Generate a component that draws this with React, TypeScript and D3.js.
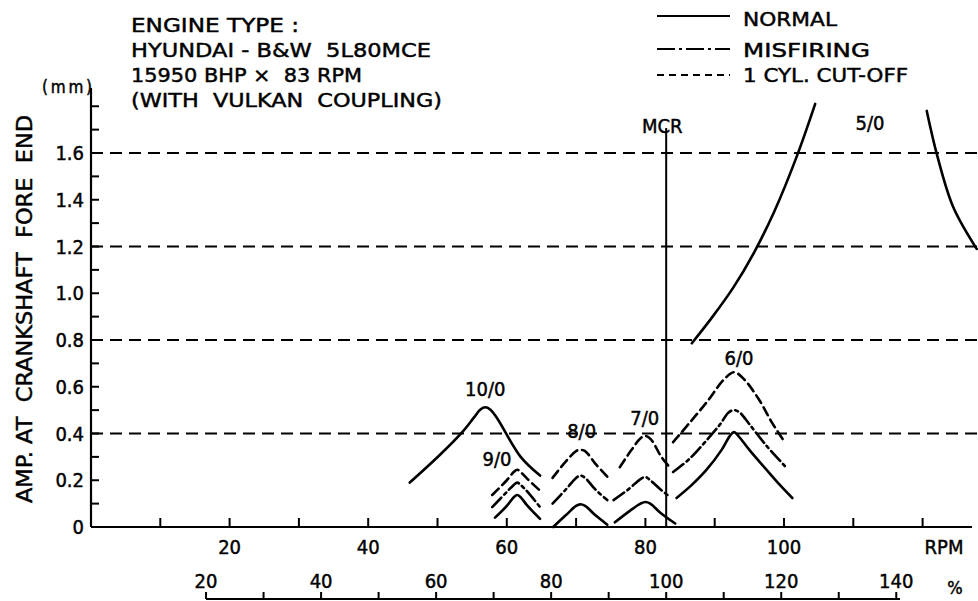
import React from "react";
import * as d3 from "d3";

// ---- chart values ----
const rpmLabels = [20, 40, 60, 80, 100];
const rpmMinorTicks = [10, 20, 30, 40, 50, 60, 70, 80, 90, 100, 110, 120];
const pctLabels = [20, 40, 60, 80, 100, 120, 140];
const pctTicks = [20, 30, 40, 50, 60, 70, 80, 90, 100, 110, 120, 130, 140];
const ampLabels = [0, 0.2, 0.4, 0.6, 0.8, 1.0, 1.2, 1.4, 1.6];
const ampTicks = [0.1, 0.2, 0.3, 0.4, 0.5, 0.6, 0.7, 0.8, 0.9, 1.0, 1.1, 1.2, 1.3, 1.4, 1.5, 1.6, 1.7, 1.8];
const limitLevels = [0.4, 0.8, 1.2, 1.6];
const mcrRpm = 83;
const mcrPct = 100;

const titleLines = [
  "ENGINE TYPE :",
  "HYUNDAI - B&W  5L80MCE",
  "15950 BHP \u00d7  83 RPM",
  "(WITH  VULKAN  COUPLING)",
];
const titleWidths = [168, 300, 231, 311];

const legendItems = ["NORMAL", "MISFIRING", "1 CYL. CUT-OFF"];
const legendWidths = [94, 127, 165];

// [rpm, amplitude mm]
const o10Normal = [[46, 0.19], [50.4, 0.31], [53.7, 0.41], [55.3, 0.47], [56.2, 0.503], [56.9, 0.512], [57.6, 0.503], [58.6, 0.465], [62, 0.3], [64.8, 0.22]];

const o9Normal = [[58.3, 0.04], [60, 0.09], [61, 0.127], [61.5, 0.137], [62, 0.127], [63, 0.09], [64.8, 0.035]];
const o9Misfire = [[57.9, 0.085], [60, 0.15], [61, 0.18], [61.5, 0.19], [62, 0.18], [63, 0.15], [64.8, 0.085]];
const o9Cutoff = [[57.9, 0.137], [60, 0.2], [61, 0.235], [61.5, 0.245], [62, 0.235], [63, 0.205], [65, 0.15]];

const o8Normal = [[66.7, 0.0], [68.5, 0.05], [70, 0.09], [70.6, 0.097], [71.3, 0.09], [72.8, 0.05], [74.5, 0.01]];
const o8Misfire = [[66.6, 0.1], [68.5, 0.16], [70, 0.21], [70.6, 0.22], [71.3, 0.21], [72.8, 0.16], [74.5, 0.115]];
const o8Cutoff = [[66.6, 0.21], [68.5, 0.28], [70, 0.325], [70.6, 0.33], [71.3, 0.325], [72.8, 0.27], [74.5, 0.215]];

const o7Normal = [[75.6, 0.02], [77.8, 0.07], [79.3, 0.1], [80, 0.107], [80.7, 0.1], [82.2, 0.06], [84.3, 0.015]];
const o7Misfire = [[75.4, 0.115], [77.5, 0.16], [79.3, 0.205], [80, 0.214], [80.7, 0.2], [82.2, 0.16], [83.5, 0.13]];
const o7Cutoff = [[76.3, 0.256], [78, 0.33], [79.3, 0.38], [80, 0.39], [80.8, 0.375], [82.3, 0.3], [83.5, 0.256]];

const o6Normal = [[84.5, 0.124], [86.7, 0.18], [88.8, 0.244], [91, 0.33], [92.2, 0.39], [92.8, 0.406], [93.4, 0.39], [95, 0.33], [97.5, 0.244], [99.4, 0.18], [101.2, 0.124]];
const o6Misfire = [[84, 0.235], [86.3, 0.29], [88.5, 0.36], [90.8, 0.44], [92, 0.49], [92.8, 0.5], [93.6, 0.49], [95, 0.44], [97.4, 0.35], [100.4, 0.252]];
const o6Cutoff = [[84, 0.363], [86.5, 0.45], [89, 0.54], [91.3, 0.63], [92.8, 0.662], [94.3, 0.63], [96.5, 0.54], [98.2, 0.45], [99.9, 0.372]];

const o5NormalLow = [[86.7, 0.786], [89.7, 0.9], [92.7, 1.025], [95.6, 1.17], [98.6, 1.35], [101.9, 1.59], [104.5, 1.81]];
const o5NormalHigh = [[120.6, 1.78], [122.1, 1.59], [124.4, 1.37], [127.8, 1.19]];

const curves = [
  { kind: "normal", pts: o10Normal },
  { kind: "normal", pts: o9Normal },
  { kind: "misfire", pts: o9Misfire },
  { kind: "cutoff", pts: o9Cutoff },
  { kind: "normal", pts: o8Normal },
  { kind: "misfire", pts: o8Misfire },
  { kind: "cutoff", pts: o8Cutoff },
  { kind: "normal", pts: o7Normal },
  { kind: "misfire", pts: o7Misfire },
  { kind: "cutoff", pts: o7Cutoff },
  { kind: "normal", pts: o6Normal },
  { kind: "misfire", pts: o6Misfire },
  { kind: "cutoff", pts: o6Cutoff },
  { kind: "normal", pts: o5NormalLow },
  { kind: "normal", pts: o5NormalHigh },
];

// order labels: [label, rpm, amp]
const orderLabels = [
  ["10/0", 56.9, 0.56],
  ["9/0", 58.6, 0.26],
  ["8/0", 70.8, 0.38],
  ["7/0", 79.9, 0.435],
  ["6/0", 93.5, 0.695],
  ["5/0", 112.4, 1.7],
];

const dashes = {
  normal: null,
  misfire: "13,4,3,4",
  cutoff: "9,5",
};

const W = 978;
const H = 601;
const font = "'DejaVu Sans Condensed', 'DejaVu Sans', sans-serif";
const wideFont = "'DejaVu Sans', sans-serif";

export default function App() {
  const x = d3.scaleLinear().domain([0, 100]).range([91, 784]);
  const y = d3.scaleLinear().domain([0, 1.6]).range([527, 153]);
  const xPct = (p: number) => x((p * mcrRpm) / mcrPct);

  const line = d3
    .line<number[]>()
    .x((d) => x(d[0]))
    .y((d) => y(d[1]))
    .curve(d3.curveCatmullRom.alpha(0.5));

  const axisY = 527;
  const pctY = 599;
  const ts = { fill: "#000", stroke: "#000", strokeWidth: 0.45 };

  return (
    <svg
      width={W}
      height={H}
      style={{ position: "absolute", left: 0, top: 0, background: "#fff" }}
      fontFamily={font}
    >
      {/* title block */}
      {titleLines.map((t, i) => (
        <text key={t} x={131} y={32 + i * 25} fontSize={19.5} fontFamily={wideFont} {...ts}
          textLength={titleWidths[i]} lengthAdjust="spacingAndGlyphs" style={{ whiteSpace: "pre" }}>
          {t}
        </text>
      ))}

      {/* legend */}
      {legendItems.map((t, i) => {
        const ly = [16, 49, 75][i];
        const k = ["normal", "misfire", "cutoff"][i];
        return (
          <g key={t}>
            <line x1={657} x2={730} y1={ly} y2={ly} stroke="#000" strokeWidth={2}
              strokeDasharray={k === "misfire" ? "18,4,3,4" : k === "cutoff" ? "7,5" : undefined} />
            <text x={743} y={[26, 57, 82][i]} fontSize={19} fontFamily={wideFont} {...ts}
              textLength={legendWidths[i]} lengthAdjust="spacingAndGlyphs">{t}</text>
          </g>
        );
      })}

      {/* limit lines */}
      {limitLevels.map((v) => (
        <line key={v} x1={x(0)} x2={W} y1={y(v)} y2={y(v)} stroke="#000" strokeWidth={2} strokeDasharray="12,7" />
      ))}

      {/* y axis */}
      <line x1={x(0)} x2={x(0)} y1={axisY} y2={88} stroke="#000" strokeWidth={2.2} />
      {ampTicks.map((v) => (
        <line key={v} x1={x(0)} x2={x(0) + 8} y1={y(v)} y2={y(v)} stroke="#000" strokeWidth={2} />
      ))}
      {ampLabels.map((v) => (
        <text key={v} x={84} y={y(v) + 7} fontSize={20} textAnchor="end" {...ts}>
          {v === 0 ? "0" : v.toFixed(1)}
        </text>
      ))}
      <text x={42} y={93} fontSize={17} {...ts} textLength={50} lengthAdjust="spacing">(mm)</text>
      <text
        transform={`translate(32, ${(115 + 503) / 2}) rotate(-90)`}
        textAnchor="middle"
        fontSize={22}
        fontFamily={wideFont}
        {...ts}
        textLength={388}
        lengthAdjust="spacingAndGlyphs"
        style={{ whiteSpace: "pre" }}
      >
        AMP. AT  CRANKSHAFT  FORE  END
      </text>

      {/* rpm axis */}
      <line x1={x(0)} x2={972} y1={axisY} y2={axisY} stroke="#000" strokeWidth={2.2} />
      {rpmMinorTicks.map((v) => (
        <line key={v} x1={x(v)} x2={x(v)} y1={axisY} y2={axisY - 9} stroke="#000" strokeWidth={2} />
      ))}
      {rpmLabels.map((v) => (
        <text key={v} x={x(v)} y={554} fontSize={20} textAnchor="middle" {...ts}>{v}</text>
      ))}
      <text x={944} y={554} fontSize={20} textAnchor="middle" {...ts}>RPM</text>

      {/* percent axis */}
      <line x1={xPct(20)} x2={900} y1={pctY} y2={pctY} stroke="#000" strokeWidth={2.2} />
      {pctTicks.map((v) => (
        <line key={v} x1={xPct(v)} x2={xPct(v)} y1={pctY} y2={pctY - 7} stroke="#000" strokeWidth={2} />
      ))}
      {pctLabels.map((v) => (
        <text key={v} x={xPct(v)} y={588} fontSize={20} textAnchor="middle" {...ts}>{v}</text>
      ))}
      <text x={955} y={594} fontSize={18} textAnchor="middle" {...ts}>%</text>

      {/* MCR */}
      <line x1={x(mcrRpm)} x2={x(mcrRpm)} y1={axisY} y2={128} stroke="#000" strokeWidth={2} />
      <text x={x(mcrRpm) - 4} y={133} fontSize={20} textAnchor="middle" {...ts}>MCR</text>

      {/* resonance curves */}
      {curves.map((c, i) => (
        <path
          key={i}
          d={line(c.pts) || ""}
          fill="none"
          stroke="#000"
          strokeWidth={2.6}
          strokeLinecap="round"
          strokeDasharray={dashes[c.kind as keyof typeof dashes] || undefined}
        />
      ))}

      {orderLabels.map(([t, r, a]) => (
        <text key={t as string} x={x(r as number)} y={y(a as number)} fontSize={20} textAnchor="middle" {...ts}>
          {t}
        </text>
      ))}
    </svg>
  );
}
